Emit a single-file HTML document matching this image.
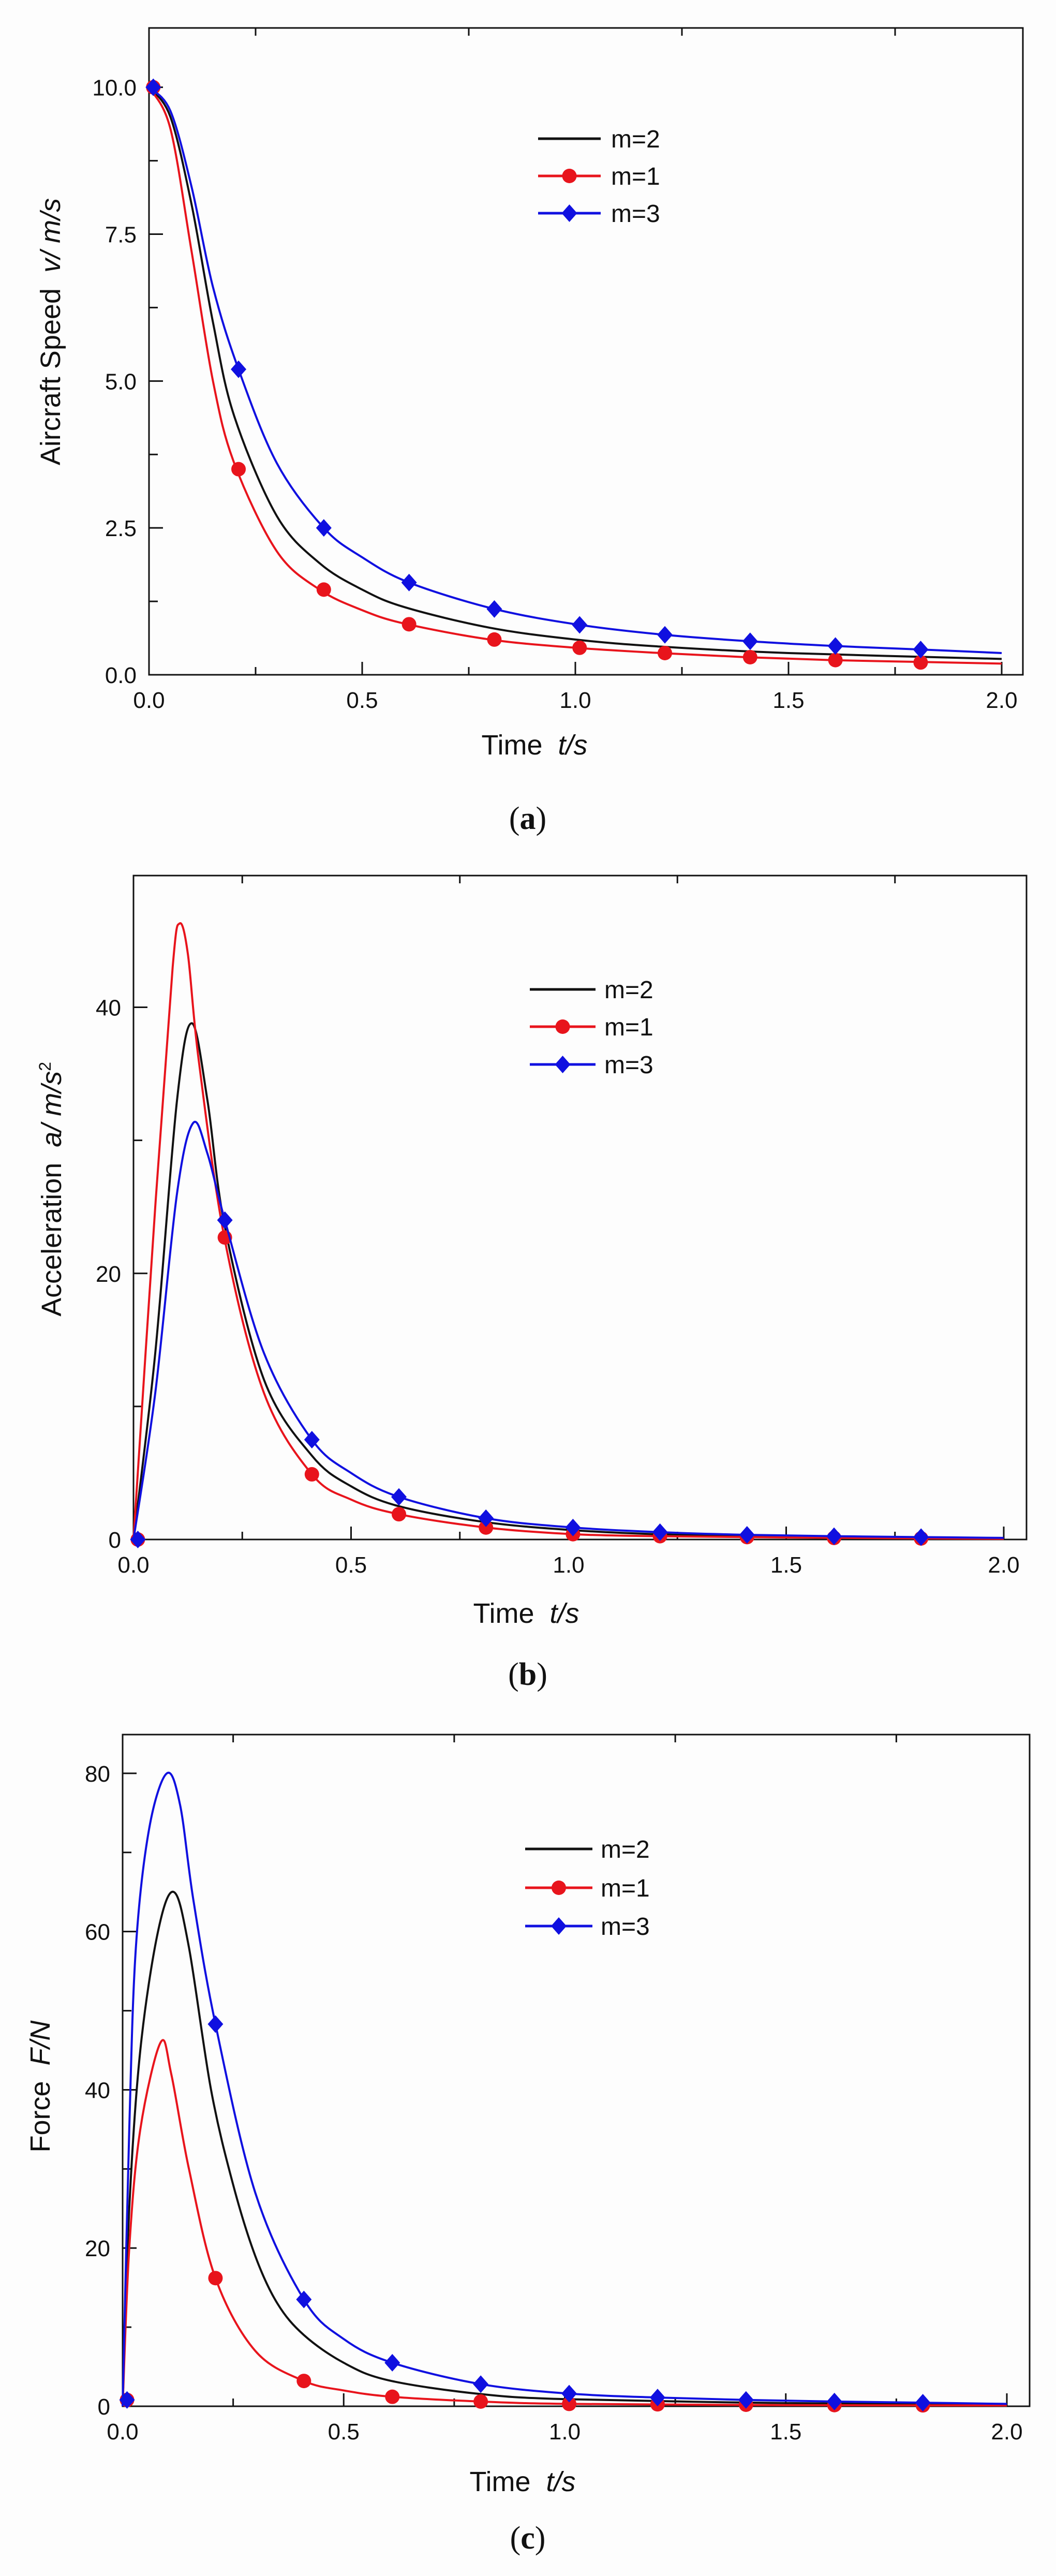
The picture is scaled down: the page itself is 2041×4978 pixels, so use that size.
<!DOCTYPE html>
<html><head><meta charset="utf-8"><style>
html,body{margin:0;padding:0;background:#fdfdfd;}
svg{display:block;}
text{font-family:"Liberation Sans",sans-serif;fill:#111;}
</style></head><body>
<svg id="s" width="2041" height="4978" viewBox="0 0 2041 4978" xmlns="http://www.w3.org/2000/svg">
<rect width="2041" height="4978" fill="#fdfdfd"/>
</svg>
<script>
const NS="http://www.w3.org/2000/svg";const S=document.getElementById('s');
function el(t,a,txt){const e=document.createElementNS(NS,t);for(const k in a)e.setAttribute(k,a[k]);if(txt!==undefined)e.innerHTML=txt;S.appendChild(e);return e;}
function panel(c){
 const X=t=>c.x0+(t)*(c.x2-c.x0)/2, Y=v=>c.yb-(v)*(c.yb-c.yt)/c.ymax;
 el('rect',{x:c.L,y:c.yt,width:c.R-c.L,height:c.yb-c.yt,fill:'none',stroke:'#111','stroke-width':3});
 for(let i=0;i<=8;i++){const t=i*0.25,x=X(t);const maj=i%2==0;
  if(i>0)el('line',{x1:x,y1:c.yb,x2:x,y2:c.yb-(maj?25:15),stroke:'#111','stroke-width':3});
  if(!maj)el('line',{x1:x,y1:c.yt,x2:x,y2:c.yt+15,stroke:'#111','stroke-width':3});
  if(maj)el('text',{x:x,y:c.yb+64,'font-size':44,'text-anchor':'middle'},t.toFixed(1));}
 for(let v=c.ystep/2;v<=c.ymax;v+=c.ystep/2){const y=Y(v);const maj=Math.abs(v/c.ystep-Math.round(v/c.ystep))<1e-6;
  el('line',{x1:c.L,y1:y,x2:c.L+(maj?27:17),y2:y,stroke:'#111','stroke-width':3});}
 for(let v=0;v<=c.ymax+1e-6;v+=c.ystep){el('text',{x:c.L-24,y:Y(v)+16,'font-size':44,'text-anchor':'end'},c.fmt(v));}
 el('text',{x:c.xtx,y:c.xty+2,'font-size':54,'text-anchor':'middle'},'Time&#160;&#160;<tspan font-style="italic">t/s</tspan>');
 el('text',{x:0,y:0,'font-size':54,'text-anchor':'middle',transform:`translate(${c.ytx},${c.yty}) rotate(-90)`},c.ylab);
 el('text',{x:1020,y:c.caption,'font-size':62,'text-anchor':'middle',style:'font-family:"Liberation Serif",serif'},'(<tspan font-weight="bold">'+c.letter+'</tspan>)');
 const ser=[['#e8141c',c.red,'c'],['#111',c.black,null],['#1010e0',c.blue,'d']];
 const order=[1,0,2];
 for(const idx of order){const [col,p,m]=ser[idx];
  const P=p.map(q=>[X(q[0]),Y(q[1])]);let d='M'+P[0][0]+','+P[0][1];
  for(let i=0;i<P.length-1;i++){const p0=P[Math.max(0,i-1)],p1=P[i],p2=P[i+1],p3=P[Math.min(P.length-1,i+2)];
   const c1=[p1[0]+(p2[0]-p0[0])/6,p1[1]+(p2[1]-p0[1])/6],c2=[p2[0]-(p3[0]-p1[0])/6,p2[1]-(p3[1]-p1[1])/6];
   d+=`C${c1[0]},${c1[1]} ${c2[0]},${c2[1]} ${p2[0]},${p2[1]}`;}
  el('path',{d:d,fill:'none',stroke:col,'stroke-width':4,'stroke-linejoin':'round'});
  if(m){for(const q of c[(idx==0?'rm':'bm')]){mark(m,X(q[0]),Y(q[1]),col);}}
 }
 const lg=[['m=2','#111',null],['m=1','#e8141c','c'],['m=3','#1010e0','d']];
 lg.forEach((g,i)=>{const y=c.lgy[i];el('line',{x1:c.lgx1,y1:y,x2:c.lgx2,y2:y,stroke:g[1],'stroke-width':5});
  if(g[2])mark(g[2],(c.lgx1+c.lgx2)/2,y,g[1]);
  el('text',{x:c.lgt,y:y+17,'font-size':48},g[0]);});
}
function mark(m,x,y,col){if(m=='c')el('circle',{cx:x,cy:y,r:14,fill:col});else el('path',{d:`M${x},${y-17}L${x+15},${y}L${x},${y+17}L${x-15},${y}Z`,fill:col});}
panel({L:288,R:1977,x0:288,x2:1936,yt:54,yb:1304,ymax:11.01,ystep:2.5,fmt:v=>v.toFixed(1),
 xtx:1033,xty:1456,ytx:116,yty:641,ylab:'Aircraft Speed&#160;&#160;<tspan font-style="italic">v/ m/s</tspan>',caption:1602,letter:'a',
 lgy:[268,340,412],lgx1:1040,lgx2:1161,lgt:1181,
 red:[[0,10],[0.05,9.3],[0.1,7.2],[0.15,5.0],[0.2,3.6],[0.3,2.1],[0.4,1.45],[0.5,1.1],[0.6,0.87],[0.8,0.6],[1.0,0.46],[1.2,0.37],[1.4,0.3],[1.6,0.25],[1.8,0.22],[2.0,0.19]],
 black:[[0,10],[0.05,9.5],[0.1,8.0],[0.15,6.0],[0.2,4.4],[0.3,2.7],[0.4,1.9],[0.5,1.45],[0.6,1.15],[0.8,0.8],[1.0,0.6],[1.2,0.48],[1.5,0.37],[2.0,0.27]],
 blue:[[0,10],[0.05,9.6],[0.1,8.3],[0.15,6.6],[0.21,5.2],[0.3,3.6],[0.41,2.5],[0.5,2.0],[0.61,1.57],[0.81,1.12],[1.01,0.85],[1.21,0.68],[1.41,0.57],[1.61,0.49],[1.81,0.43],[2.0,0.37]],
 rm:[[0.01,10],[0.21,3.5],[0.41,1.45],[0.61,0.86],[0.81,0.6],[1.01,0.46],[1.21,0.37],[1.41,0.3],[1.61,0.25],[1.81,0.21]],
 bm:[[0.01,10],[0.21,5.2],[0.41,2.5],[0.61,1.57],[0.81,1.12],[1.01,0.85],[1.21,0.68],[1.41,0.57],[1.61,0.49],[1.81,0.43]]});
panel({L:258,R:1984,x0:258,x2:1940,yt:1692,yb:2975,ymax:49.9,ystep:20,fmt:v=>String(v),
 xtx:1017,xty:3134,ytx:118,yty:2298,ylab:'Acceleration&#160;&#160;<tspan font-style="italic">a/ m/s</tspan><tspan font-size="32" dy="-20">2</tspan>',caption:3256,letter:'b',
 lgy:[1912,1984,2057],lgx1:1024,lgx2:1151,lgt:1168,
 red:[[0,0],[0.05,25],[0.09,43],[0.106,46.3],[0.125,44],[0.15,36],[0.21,22.5],[0.3,11],[0.41,4.9],[0.5,3],[0.61,1.9],[0.81,0.9],[1.01,0.4],[1.2,0.25],[1.5,0.15],[2,0.05]],
 black:[[0,0],[0.05,14],[0.1,33],[0.134,38.8],[0.17,33],[0.21,23.5],[0.3,12],[0.41,6.3],[0.5,4],[0.61,2.5],[0.81,1.3],[1.01,0.7],[1.2,0.4],[1.5,0.2],[2,0.1]],
 blue:[[0,0],[0.05,11],[0.1,26],[0.137,31.3],[0.17,29],[0.21,24],[0.3,14],[0.41,7.5],[0.5,5],[0.61,3.2],[0.81,1.6],[1.01,0.9],[1.21,0.55],[1.41,0.35],[1.61,0.25],[1.81,0.18],[2,0.12]],
 rm:[[0.01,0],[0.21,22.7],[0.41,4.9],[0.61,1.9],[0.81,0.9],[1.01,0.4],[1.21,0.25],[1.41,0.18],[1.61,0.12],[1.81,0.08]],
 bm:[[0.01,0],[0.21,24],[0.41,7.5],[0.61,3.2],[0.81,1.6],[1.01,0.9],[1.21,0.55],[1.41,0.35],[1.61,0.25],[1.81,0.18]]});
panel({L:237,R:1990,x0:237,x2:1946,yt:3352,yb:4650,ymax:84.9,ystep:20,fmt:v=>String(v),
 xtx:1010,xty:4812,ytx:96,yty:4032,ylab:'Force&#160;&#160;<tspan font-style="italic">F/N</tspan>',caption:4925,letter:'c',
 lgy:[3573,3648,3722],lgx1:1015,lgx2:1145,lgt:1161,
 red:[[0,0],[0.015,20],[0.04,35],[0.086,46],[0.11,42],[0.15,30],[0.21,16.2],[0.3,7],[0.41,3.2],[0.5,2],[0.61,1.2],[0.81,0.6],[1.01,0.3],[1.5,0.15],[2,0.1]],
 black:[[0,0],[0.015,25],[0.04,45],[0.08,60],[0.116,65],[0.15,58],[0.2,40],[0.25,28],[0.3,19],[0.35,13],[0.41,9],[0.5,5.5],[0.6,3.3],[0.8,1.6],[1.0,0.9],[1.5,0.4],[2,0.2]],
 blue:[[0,0],[0.015,35],[0.03,58],[0.06,73],[0.1,80],[0.13,76],[0.16,64],[0.21,48.3],[0.3,27],[0.41,13.5],[0.5,8.5],[0.61,5.5],[0.81,2.8],[1.01,1.6],[1.21,1.1],[1.41,0.8],[1.61,0.6],[1.81,0.45],[2,0.3]],
 rm:[[0.01,0.8],[0.21,16.2],[0.41,3.2],[0.61,1.2],[0.81,0.6],[1.01,0.3],[1.21,0.25],[1.41,0.2],[1.61,0.15],[1.81,0.12]],
 bm:[[0.01,0.8],[0.21,48.3],[0.41,13.5],[0.61,5.5],[0.81,2.8],[1.01,1.6],[1.21,1.1],[1.41,0.8],[1.61,0.6],[1.81,0.45]]});
</script>
</body></html>
